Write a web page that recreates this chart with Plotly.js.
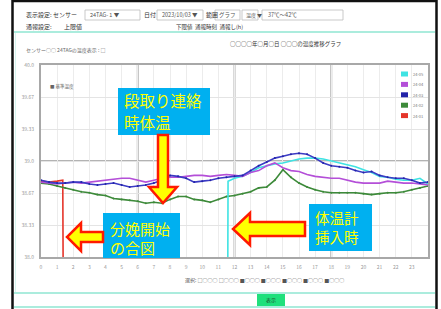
<!DOCTYPE html>
<html><head><meta charset="utf-8">
<script src="https://cdn.plot.ly/plotly-3.0.1.min.js"></script>
<style>html,body{margin:0;padding:0;background:#fff;}#chart{width:441px;height:309px;}</style>
</head><body><div id="chart"></div>
<script>
// ---- data (hours of day, temperature ℃) ----
const hours = [0,0.5,1,1.5,2,2.5,3,3.5,4,4.5,5,5.5,6,6.5,7,7.5,8,8.5,9,9.5,10,10.5,11,11.5,12,12.5,13,13.5,14,14.5,15,15.5,16,16.5,17,17.5,18,18.5,19,19.5,20,20.5,21,21.5,22,22.5,23,23.5,24];
const tempNavy = [38.80,38.78,38.77,38.77,38.78,38.78,38.76,38.75,38.76,38.77,38.75,38.73,38.74,38.75,38.77,38.80,38.85,38.84,38.82,38.78,38.79,38.80,38.82,38.83,38.84,38.85,38.90,38.95,38.99,39.03,39.05,39.07,39.08,39.07,39.03,38.98,38.95,38.94,38.93,38.90,38.88,38.89,38.85,38.83,38.82,38.82,38.80,38.77,38.78];
const tempViolet = [38.78,38.77,38.76,38.77,38.78,38.77,38.78,38.79,38.80,38.81,38.82,38.82,38.80,38.78,38.80,38.82,38.83,38.83,38.84,38.85,38.85,38.84,38.85,38.86,38.85,38.84,38.88,38.90,38.95,38.98,38.93,38.90,38.89,38.86,38.84,38.83,38.82,38.82,38.80,38.78,38.77,38.77,38.77,38.79,38.78,38.77,38.77,38.76,38.75];
const tempGreen = [38.77,38.76,38.74,38.72,38.70,38.68,38.67,38.65,38.64,38.61,38.60,38.59,38.58,38.56,38.57,38.56,38.60,38.63,38.63,38.60,38.59,38.57,38.60,38.63,38.64,38.66,38.68,38.72,38.73,38.80,38.91,38.83,38.77,38.73,38.70,38.68,38.67,38.67,38.67,38.67,38.66,38.65,38.66,38.67,38.67,38.68,38.70,38.72,38.74];
const cyanHours = [0,11.55,11.6,12,12.5,13,13.5,14,14.5,15,15.5,16,16.5,17,17.5,18,18.5,19,19.5,20,20.5,21,21.5,22,22.5,23,23.5,24];
const tempCyan = [36.0,36.0,38.79,38.82,38.84,38.88,38.93,38.95,38.97,38.98,39.00,39.02,39.03,39.03,39.02,39.00,38.98,38.96,38.94,38.91,38.88,38.84,38.83,38.81,38.80,38.80,38.82,38.76];
const redHours = [0,0.5,1,1.35,1.42];
const tempRed = [38.79,38.78,38.79,38.80,36.0];

const seriesNames = ['24-05','24-04','24-03','24-02','24-01'];   // legend order: cyan, violet, navy, green, red
const seriesColors = ['#3fe3e3','#b44fd8','#2323a8','#3d8a3a','#e5352b'];

const xTickVals = [0,1,2,3,4,5,6,7,8,9,10,11,12,13,14,15,16,17,18,19,20,21,22,23];
const xTickText = ['0','1','2','3','4','5','6','7','8','9','10','11','12','13','14','15','16','17','18','19','20','21','22','23'];
const yTickVals = [38,38.3333,38.6667,39,39.3333,39.6667,40];
const yTickText = ['38.0','38.33','38.67','39.0','39.33','39.67','40.0'];
const majorHours = [6,12,18];
const majorTemps = [39];

// ---- geometry helpers (pixel -> paper) ----
const L=41, R=428, T=65, B=257;
const px = x => (x-L)/(R-L);
const py = y => (B-y)/(B-T);
const poly = pts => 'M' + pts.map(p => px(p[0]).toFixed(5)+','+py(p[1]).toFixed(5)).join(' L') + ' Z';

const traces = [
  {x: redHours, y: tempRed, name: seriesNames[4], mode:'lines', line:{color:seriesColors[4], width:1.6}},
  {x: hours, y: tempGreen, name: seriesNames[3], mode:'lines+markers', line:{color:seriesColors[3], width:1.6}, marker:{size:2, color:seriesColors[3]}},
  {x: cyanHours, y: tempCyan, name: seriesNames[0], mode:'lines', line:{color:seriesColors[0], width:1.6}},
  {x: hours, y: tempViolet, name: seriesNames[1], mode:'lines', line:{color:seriesColors[1], width:1.6}},
  {x: hours, y: tempNavy, name: seriesNames[2], mode:'lines+markers', line:{color:'#3b3bc4', width:1.6}, marker:{size:2, color:seriesColors[2]}}
];
traces.forEach(t => { t.showlegend = false; t.hoverinfo = 'skip'; });

const shapes = [];
const annotations = [];
// major grid lines
majorHours.forEach(h => shapes.push({type:'line', xref:'x', yref:'paper', x0:h, x1:h, y0:0, y1:1, line:{color:'#b3b3b3', width:2}, layer:'below'}));
majorTemps.forEach(t => shapes.push({type:'line', xref:'paper', yref:'y', x0:0, x1:1, y0:t, y1:t, line:{color:'#b3b3b3', width:2}, layer:'below'}));

// page frame
shapes.push({type:'rect', xref:'paper', yref:'paper', x0:px(12.5), x1:px(436.5), y0:py(1), y1:py(330), line:{color:'#111', width:2.5}});
[32, 293, 307].forEach(y => shapes.push({type:'line', xref:'paper', yref:'paper', x0:px(14), x1:px(435), y0:py(y), y1:py(y), line:{color:'#8fe6d2', width:1.5}}));
shapes.push({type:'line', xref:'paper', yref:'paper', x0:px(15.5), x1:px(15.5), y0:py(33), y1:py(292), line:{color:'#d6f5ef', width:1}});

// header form boxes
[[85,140],[157,203],[215,240],[242,258],[262,343]].forEach(b => shapes.push({type:'rect', xref:'paper', yref:'paper', x0:px(b[0]), x1:px(b[1]), y0:py(10), y1:py(20), line:{color:'#bbb', width:0.8}, fillcolor:'#fff'}));

const small = (txt, x, y, size, color, anchor) => annotations.push({text:txt, xref:'paper', yref:'paper', x:px(x), y:py(y), xanchor:anchor||'left', yanchor:'middle', showarrow:false, font:{size:size, color:color||'#333', family:'Noto Sans CJK JP'}});
small('表示設定: センサー', 24, 15, 6);
small('24TAG- 1 ▼', 88, 15, 5.5, '#555');
small('日付', 142, 15, 6);
small('2023/10/03 ▼', 160, 15, 5.5, '#555');
small('範囲', 204, 15, 6);
small('グラフ', 217, 15, 5.5, '#555');
small('温度 ▼', 244, 15, 5, '#555');
small('37℃〜42℃', 266, 15, 5.5, '#555');
small('通報設定:', 24, 27, 6);
small('上限値', 62, 27, 6);
small('下限値  通報時刻  通報し(h)', 174, 27, 5.5);
small('○○○○年○月○日 ○○○の温度推移グラフ', 228, 44, 5.5);
small('センサー○○ 24TAGの温度表示 : □', 24, 50, 5, '#666');
small('■ 基準温度', 48, 86, 4.5, '#666');
small('選択: □○○○ □○○○ ■○○○ ■○○○ ■○○○ ■○○○ ■○○○', 183, 280, 5, '#555');

// button
shapes.push({type:'rect', xref:'paper', yref:'paper', x0:px(257), x1:px(285), y0:py(294), y1:py(306), line:{width:0}, fillcolor:'#1fe07c'});
small('表示', 271, 300, 5, '#225533', 'center');

// manual legend
seriesNames.forEach((n,i) => {
  const yc = 74 + 10.4*i;
  shapes.push({type:'rect', xref:'paper', yref:'paper', x0:px(401), x1:px(408), y0:py(yc-2.5), y1:py(yc+2.5), line:{width:0}, fillcolor:seriesColors[i]});
  small(n, 411, yc, 4, '#777');
});

// callout boxes (each text line placed separately)
const boxes = [
  {x0:118, x1:210, y0:88, y1:135, tx:122, lines:[['段取り連絡',100],['時体温',122]], size:15.5},
  {x0:103, x1:180, y0:213, y1:258, tx:108, lines:[['分娩開始',228],['の合図',247.5]], size:15},
  {x0:309, x1:372, y0:204, y1:251, tx:313, lines:[['体温計',217],['挿入時',236]], size:14.5}
];
boxes.forEach(b => {
  shapes.push({type:'rect', xref:'paper', yref:'paper', x0:px(b.x0), x1:px(b.x1), y0:py(b.y0), y1:py(b.y1), line:{width:0}, fillcolor:'#00b0f0', layer:'above'});
  b.lines.forEach(l => annotations.push({text:l[0], xref:'paper', yref:'paper', x:px(b.tx), y:py(l[1]), xanchor:'left', yanchor:'middle', align:'left', showarrow:false, font:{size:b.size, color:'#ffff00', family:'Noto Sans CJK JP'}}));
});

// block arrows
const arrows = [
  [[158,135],[168,135],[168,187],[177,187],[163,203],[149,187],[158,187]],
  [[103,232],[81,232],[81,223],[67,237],[81,251],[81,242],[103,242]],
  [[305,222],[250,222],[250,213],[233,229],[250,245],[250,236],[305,236]]
];
arrows.forEach(a => shapes.push({type:'path', xref:'paper', yref:'paper', path:poly(a), fillcolor:'#ffff00', line:{color:'#ff1a00', width:2.5}, layer:'above'}));

const layout = {
  width:441, height:309,
  margin:{l:L, r:441-R, t:T, b:309-B, pad:0},
  paper_bgcolor:'#fff', plot_bgcolor:'#fff',
  showlegend:false,
  font:{family:'Noto Sans CJK JP', size:5, color:'#888'},
  xaxis:{range:[0,24], tickmode:'array', tickvals:xTickVals, ticktext:xTickText, showgrid:true, gridcolor:'#ececec', gridwidth:1,
         showline:true, mirror:true, linecolor:'#a8a8a8', linewidth:2, ticks:'', zeroline:false, tickfont:{size:5, color:'#999'}, ticklabelstandoff:4, fixedrange:true},
  yaxis:{range:[38,40], tickmode:'array', tickvals:yTickVals, ticktext:yTickText, showgrid:true, gridcolor:'#e4e4e4', gridwidth:1,
         showline:true, mirror:true, linecolor:'#a8a8a8', linewidth:2, ticks:'', zeroline:false, tickfont:{size:5, color:'#999'}, ticklabelstandoff:4, fixedrange:true},
  shapes: shapes,
  annotations: annotations
};
Plotly.newPlot('chart', traces, layout, {displayModeBar:false, staticPlot:true});
</script></body></html>
